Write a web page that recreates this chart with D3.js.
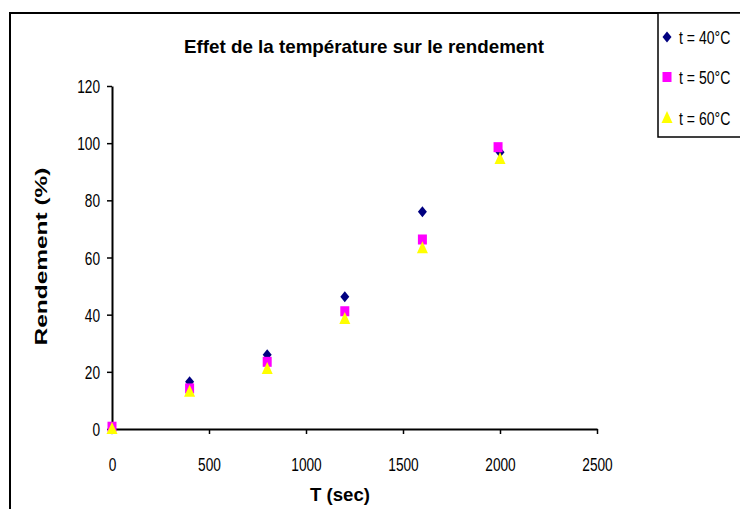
<!DOCTYPE html>
<html><head><meta charset="utf-8">
<script src="https://cdn.jsdelivr.net/npm/d3@7"></script>
<style>
html,body{margin:0;padding:0;background:#fff;}
svg{display:block;}
text{font-family:"Liberation Sans",Arial,sans-serif;fill:#000;}
</style></head>
<body>
<svg id="chart" width="740" height="509"></svg>
<script>
const timeSec = [0, 400, 800, 1200, 1600, 2000];
const time50 = [0, 400, 800, 1200, 1600, 1990];
const rend40 = [0, 16.5, 26, 46.3, 76, 96.8];
const rend50 = [0.8, 14.2, 23.5, 41.2, 66.3, 98.6];
const rend60 = [0, 13, 21, 38.5, 63.2, 94.5];
const seriesNames = ["t = 40°C", "t = 50°C", "t = 60°C"];
const xTicks = [0, 500, 1000, 1500, 2000, 2500];
const yTicks = [0, 20, 40, 60, 80, 100, 120];
const title = "Effet de la température sur le rendement";
const xLabel = "T (sec)";
const yLabel = "Rendement (%)";

const svg = d3.select("#chart");
const x = d3.scaleLinear().domain([0, 2500]).range([112, 597]);
const y = d3.scaleLinear().domain([0, 120]).range([429, 86]);

function narrow(sel, k) {
  sel.each(function() {
    const w = this.getComputedTextLength();
    d3.select(this).attr("textLength", w * k).attr("lengthAdjust", "spacingAndGlyphs");
  });
}

// outer chart frame
svg.append("rect").attr("x", 10).attr("y", 13).attr("width", 760).attr("height", 520)
  .attr("fill", "none").attr("stroke", "#000").attr("stroke-width", 2);

// title
svg.append("text").attr("x", 364).attr("y", 53).attr("text-anchor", "middle")
  .attr("font-size", 19).attr("font-weight", "bold")
  .attr("textLength", 360).attr("lengthAdjust", "spacingAndGlyphs")
  .text(title);

// axes
const xAxis = d3.axisBottom(x).tickValues(xTicks).tickFormat(d3.format("d")).tickSize(5).tickSizeOuter(0).tickPadding(24);
const yAxis = d3.axisLeft(y).tickValues(yTicks).tickFormat(d3.format("d")).tickSize(5).tickSizeOuter(0).tickPadding(7);

const gx = svg.append("g").attr("transform", `translate(0,${y(0)})`).call(xAxis);
const gy = svg.append("g").attr("transform", `translate(${x(0)},0)`).call(yAxis);
[gx, gy].forEach(g => {
  g.select(".domain").attr("stroke", "#000").attr("stroke-width", 2);
  g.selectAll(".tick line").attr("stroke", "#000").attr("stroke-width", 1.5);
  g.selectAll(".tick text").attr("font-size", 19).attr("fill", "#000")
    .style("font-family", "'Liberation Sans',Arial,sans-serif");
  narrow(g.selectAll(".tick text"), 0.72);
});
gy.selectAll(".tick text").attr("dy", "0.35em");

// axis labels
svg.append("text").attr("x", 340).attr("y", 501).attr("text-anchor", "middle")
  .attr("font-size", 19).attr("font-weight", "bold")
  .attr("textLength", 60).attr("lengthAdjust", "spacingAndGlyphs")
  .text(xLabel);
svg.append("text").attr("transform", `translate(47,${(y(0)+y(120))/2 - 1}) rotate(-90)`)
  .attr("text-anchor", "middle").attr("font-size", 17).attr("font-weight", "bold")
  .attr("textLength", 178).attr("lengthAdjust", "spacingAndGlyphs")
  .text(yLabel);

// marker shapes
function diamond(g, cx, cy) {
  g.append("path").attr("d", `M${cx},${cy-5.5}L${cx+4.5},${cy}L${cx},${cy+5.5}L${cx-4.5},${cy}Z`).attr("fill", "#000080");
}
function square(g, cx, cy) {
  g.append("rect").attr("x", cx-4.5).attr("y", cy-5).attr("width", 9).attr("height", 10).attr("fill", "#FF00FF");
}
function triangle(g, cx, cy) {
  g.append("path").attr("d", `M${cx},${cy-7}L${cx+5.5},${cy+5}L${cx-5.5},${cy+5}Z`).attr("fill", "#FFFF00");
}

const pts = svg.append("g");
timeSec.forEach((t, i) => diamond(pts, x(t), y(rend40[i])));
time50.forEach((t, i) => square(pts, x(t), y(rend50[i])));
timeSec.forEach((t, i) => triangle(pts, x(t), y(rend60[i])));

// legend
const lg = svg.append("g");
lg.append("rect").attr("x", 658).attr("y", 13).attr("width", 100).attr("height", 124)
  .attr("fill", "#fff").attr("stroke", "#000").attr("stroke-width", 1.5);
const legY = [37, 77, 118];
const drawers = [diamond, square, triangle];
seriesNames.forEach((n, i) => {
  drawers[i](lg, 667, legY[i]);
  lg.append("g").attr("transform", `translate(679,${legY[i]}) scale(0.74,1)`)
    .append("text").attr("x", 0).attr("y", 0).attr("dy", "0.35em")
    .attr("font-size", 19).text(n);
});
</script>
</body></html>
